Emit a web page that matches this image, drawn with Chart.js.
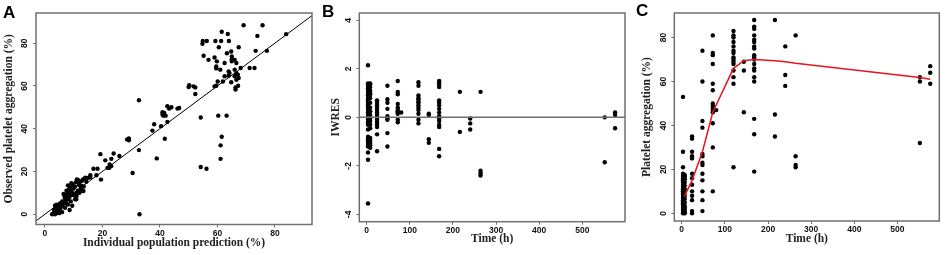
<!DOCTYPE html>
<html>
<head>
<meta charset="utf-8">
<script src="https://cdn.jsdelivr.net/npm/chart.js@4.4.0/dist/chart.umd.min.js"></script>
<style>
  body { margin: 0; background: #fff; width: 945px; height: 255px; position: relative; overflow: hidden; }
  .pan { position: absolute; top: 0; width: 315px; height: 255px; }
  .lab { position: absolute; font: bold 17px "Liberation Sans", Arial, sans-serif; color: #000; line-height: 17px; }
</style>
</head>
<body>
<div class="pan" style="left:0"><canvas id="cA" width="315" height="255"></canvas></div>
<div class="pan" style="left:315px"><canvas id="cB" width="315" height="255"></canvas></div>
<div class="pan" style="left:630px"><canvas id="cC" width="315" height="255"></canvas></div>
<div class="lab" style="left:3px;top:4px">A</div>
<div class="lab" style="left:322px;top:3px">B</div>
<div class="lab" style="left:636px;top:2px">C</div>
<script>
// ---- data ----
// panel A: individual prediction vs observed (%)
var predA = [2.5,3,3.5,4,4.5,3.2,3.8,4.2,5,5.5,4.8,5.2,6,6.5,6,7,7.5,7,8,8.5,6.8,7.5,8,8.8,9,9.5,8.5,9,9.5,10,10.5,8,9.2,10,11,11.5,12,12.5,10.8,11.5,12,7,8.6,9.5,6,5,4,3.5,7.5,6.5,10.5,12,13,13.5,9,8,11,
  12.8,13.2,11.1,11.7,12.7,13.4,12,10.9,14,14.6,15.2,14.4,15.8,15.8,17.9,19.5,16.9,18.3,21,19.3,21.8,22.4,22.5,23.1,23.1,23.9,25.9,
  32.9,30.5,32.7,32.7,28.6,29.2,29.2,38.9,41.7,40.4,37.4,38,42.6,42,40.9,41.5,40.9,41.2,42.6,43.2,44,46.1,46.7,
  61.1,56.2,54.2,61.1,61.5,63.2,60.3,54.2,50,52.3,52.3,51.7,50.2,
  59,61,66.3,66.3,67.2,64.8,66.6,66,67.1,67.4,62.5,59.6,60.1,61.9,63.9,64.2,63.9,66,66.6,68.1,71.2,72.9,66,66.6,65,65,65,64.8,63.3,59.6,59.6,62.5,59.8,59,56.9,55.2,73.3,77.2,60.5,67.4,
  54.9,54.8,56.3,59.3,61.3,64,73.9,61.5,63.6,83.9,69.1,75.7];
var obsA = [0,0.5,0,0.5,1,2,3,2.5,2,3,4,5,4,5,6,6,5,7.5,7,8,8.5,9,10,9,11,10,12,13,14,12,13,13.5,14.5,9,10,11,10,12,15,16,14,3,2,4,1,0.5,4.5,4,11,9.5,7,13.5,11,13,6,4.5,8.5,
  15.5,16.3,16.3,15.5,13.2,10.9,10.4,7,17.1,16.8,17.1,15.2,18.3,17.4,18.2,16.2,21.3,21.3,25.2,28.1,21.7,21.7,23.3,22.5,25.9,28.4,27.2,
  0,19.3,30,53.3,35,35.4,34.6,26.1,35.3,41.2,39.1,42.1,43.2,46.1,47.7,47.4,46.6,46.1,50.5,49.4,50,49.4,49.7,
  25.9,21.3,22.1,32.2,36.2,46.1,46.1,45.2,59.5,56.2,59.3,59.8,60.3,
  59.8,67.6,59.3,58.3,60.1,61.7,62.9,64.5,65.2,63.7,64.5,68.2,62.1,62.1,66.8,66,64.8,67.6,66,68.4,68.4,68.4,72.2,70.7,73.8,72.5,71.5,76.1,75.3,69.1,60.1,70.7,71.5,73.3,72.2,74.1,76.4,76.4,78.1,78.1,
  81,79.7,81,81,81,81,83.4,85.3,84.3,84.2,88.4,88.4];
var xTicksA = [0, 20, 40, 60, 80];
var yTicksA = [0, 20, 40, 60, 80];

// panel B: IWRES by sampling time (h)
var timesB = [3, 8, 24, 48, 72, 80, 120, 144, 168, 216, 240, 264, 552, 576];
var iwresB = [
  [2.15,1.4,1.3,1.2,1.1,1.0,0.9,0.8,0.7,0.6,0.5,0.4,0.3,0.2,0.1,0,-0.1,-0.2,-0.3,-0.5,-0.8,-0.9,-1.0,-1.1,-1.2,-1.45,-1.75,-3.55],
  [1.4,1.35,1.25,1.1,1.0,0.95,0.8,0.6,0.4,0.25,0.1,-0.05,-0.15,-0.3,-0.45,-0.85,-0.95,-1.05,-1.15,-1.25],
  [0.7,0.6,0.5,0.4,0.3,0.2,0.1,0,-0.1,-0.2,-0.3,-0.4,-0.7,-1.4],
  [1.3,0.75,0.6,0.35,0.05,-0.05,-0.1,-0.65,-1.2],
  [1.5,1.05,0.95,0.55,0.4,0.3,0.25,0.2,0.15,-0.1,-0.2],
  [0.2],
  [1.45,1.3,0.9,0.8,0.75,0.65,0.6,0.5,0.4,0.3,0.15,-0.1,-0.25],
  [0.15,0.1,-0.9,-1.05],
  [1.5,1.45,1.35,1.25,0.7,0.6,0.5,0.35,0.2,0.05,-0.05,-0.15,-0.3,-0.4,-1.3,-1.6],
  [1.05,-0.6],
  [-0.05,-0.25,-0.5],
  [1.05,-2.2,-2.3,-2.4],
  [0,-1.85],
  [0.2,0.1,-0.45]
];
var xTicksB = [0, 100, 200, 300, 400, 500];
var yTicksB = [-4, -2, 0, 2, 4];

// panel C: observed platelet aggregation (%) by time, plus median curve
var timesC = [3, 7, 24, 48, 72, 80, 120, 144, 168, 216, 240, 264, 552, 576];
var obsC = [
  [0,1,2,3,4,5,6,7,8,9,10,11,12,13,14,15,16,17,18,21,28,53],
  [0,0.5,1.5,2.5,3.5,5,6.5,8,9.5,11,12.5,14,15.5,16.5,17.5],
  [35,34,28,26,25,18,16,13,10,8,6,1,0],
  [74,60,42,39,27,26,23,22,18,15,10,6,1],
  [81,73,72,68,59,56,50,49,48,47,46,41,30,10],
  [47],
  [83,81,80,78,76,74,73,71,70,69,68,65,62,59,21],
  [69,65,46],
  [88,85,84,81,79,78,76,75,72,71,70,68,66,65,62,60,43,36,19],
  [88,45,35],
  [76,63,58],
  [81,26,22,21],
  [62,60,32],
  [67,64,59]
];
var curveTimes = [6, 24, 48, 72, 120, 144, 168, 216, 240, 264, 552, 576];
var curveVals = [7.6, 15, 28, 46, 66, 69.5, 70, 69.5, 69, 68.3, 61.8, 61];
var xTicksC = [0, 100, 200, 300, 400, 500];
var yTicksC = [0, 20, 40, 60, 80];

// ---- helpers ----
function flatten(times, groups) {
  var out = [];
  times.forEach(function (t, i) {
    groups[i].forEach(function (v) { out.push({ x: t, y: v }); });
  });
  return out;
}

var frameColor = '#707070';
var tickFont = { family: '"Liberation Sans", Arial, sans-serif', size: 8.5, weight: 'bold' };
var titleFont = { family: '"Liberation Serif", "Times New Roman", serif', size: 11.5, weight: 'bold' };

// box around plot + rotated y tick labels (R style)
var framePlugin = {
  id: 'frame',
  afterDraw: function (chart) {
    var a = chart.chartArea, ctx = chart.ctx, ys = chart.scales.y;
    ctx.save();
    ctx.strokeStyle = frameColor;
    ctx.lineWidth = 1.5;
    ctx.strokeRect(a.left, a.top, a.right - a.left, a.bottom - a.top);
    ctx.fillStyle = '#111';
    ctx.font = 'bold 8.5px "Liberation Sans", Arial, sans-serif';
    ctx.textAlign = 'center';
    ctx.textBaseline = 'middle';
    ys.ticks.forEach(function (t) {
      var py = ys.getPixelForValue(t.value);
      ctx.save();
      ctx.translate(a.left - 11, py);
      ctx.rotate(-Math.PI / 2);
      ctx.fillText(String(t.value), 0, 0);
      ctx.restore();
    });
    ctx.restore();
  }
};

function makePanel(id, cfg) {
  var datasets = [{
    data: cfg.points,
    pointRadius: 2.2,
    pointHoverRadius: 2.2,
    pointBackgroundColor: '#000',
    pointBorderWidth: 0,
    order: 2
  }];
  if (cfg.line) {
    datasets.push({
      data: cfg.line,
      showLine: true,
      borderColor: cfg.lineColor,
      borderWidth: cfg.lineWidth,
      pointRadius: 0,
      order: 1
    });
  }
  return new Chart(document.getElementById(id), {
    type: 'scatter',
    data: { datasets: datasets },
    options: {
      responsive: false,
      animation: false,
      layout: { padding: { left: 0, right: cfg.padRight, top: 13, bottom: 0 } },
      plugins: { legend: { display: false }, tooltip: { enabled: false } },
      scales: {
        x: {
          min: cfg.xMin, max: cfg.xMax,
          afterBuildTicks: function (s) { s.ticks = cfg.xTicks.map(function (v) { return { value: v }; }); },
          afterFit: function (s) { s.height = cfg.xHeight; },
          border: { display: false },
          grid: { drawOnChartArea: false, drawTicks: true, tickLength: 3, color: frameColor, lineWidth: 1 },
          ticks: { font: tickFont, color: '#111', padding: 1, maxRotation: 0, autoSkip: false },
          title: { display: true, text: cfg.xTitle, font: titleFont, color: '#222', padding: { top: 0, bottom: cfg.xTitlePad } }
        },
        y: {
          min: cfg.yMin, max: cfg.yMax,
          afterBuildTicks: function (s) { s.ticks = cfg.yTicks.map(function (v) { return { value: v }; }); },
          afterFit: function (s) { s.width = cfg.yWidth; },
          border: { display: false },
          grid: { drawOnChartArea: false, drawTicks: true, tickLength: 3, color: frameColor, lineWidth: 1 },
          ticks: { display: false },
          title: { display: true, text: cfg.yTitle, font: titleFont, color: '#222', padding: { top: cfg.yTitlePad, bottom: 0 } }
        }
      }
    },
    plugins: [framePlugin]
  });
}

// A
var xMinA = -3.1, xMaxA = 92.9;
makePanel('cA', {
  points: predA.map(function (p, i) { return { x: p, y: obsA[i] }; }),
  line: [{ x: -10, y: -10 }, { x: 100, y: 100 }],
  lineColor: '#000', lineWidth: 1,
  xMin: xMinA, xMax: xMaxA, yMin: -4.8, yMax: 94.1,
  xTicks: xTicksA, yTicks: yTicksA,
  padRight: 3, xHeight: 30.5, yWidth: 36,
  xTitle: 'Individual population prediction (%)', yTitle: 'Observed platelet aggregation (%)',
  xTitlePad: 4.8, yTitlePad: 2.1
});

// B
var xMinB = -17.2, xMaxB = 599;
makePanel('cB', {
  points: flatten(timesB, iwresB),
  line: [{ x: xMinB, y: 0 }, { x: xMaxB, y: 0 }],
  lineColor: '#707070', lineWidth: 1.5,
  xMin: xMinB, xMax: xMaxB, yMin: -4.3, yMax: 4.3,
  xTicks: xTicksB, yTicks: yTicksB,
  padRight: 5, xHeight: 33.3, yWidth: 44.3,
  xTitle: 'Time (h)', yTitle: 'IWRES',
  xTitlePad: 8.6, yTitlePad: 14.1
});

// C
makePanel('cC', {
  points: flatten(timesC, obsC),
  line: curveTimes.map(function (t, i) { return { x: t, y: curveVals[i] }; }),
  lineColor: '#e8141c', lineWidth: 1.5,
  xMin: -17.2, xMax: 597, yMin: -3.5, yMax: 91.2,
  xTicks: xTicksC, yTicks: yTicksC,
  padRight: 5.7, xHeight: 34, yWidth: 44.3,
  xTitle: 'Time (h)', yTitle: 'Platelet aggregation (%)',
  xTitlePad: 8.6, yTitlePad: 10.1
});
</script>
</body>
</html>
